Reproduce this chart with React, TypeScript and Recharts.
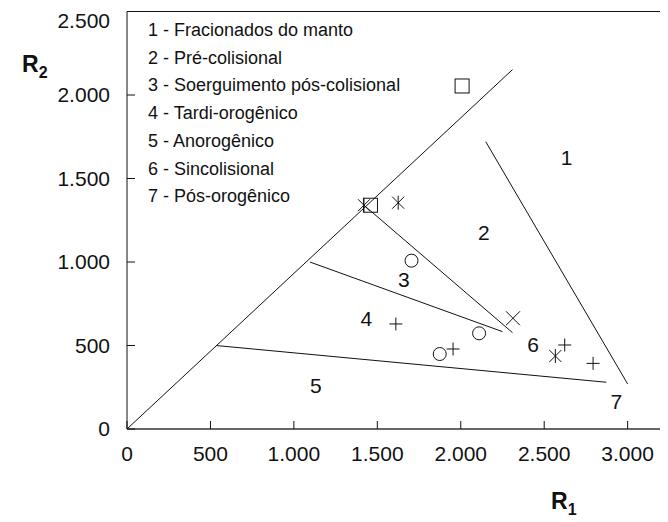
import React from 'react';
import {
	ScatterChart,
	Scatter,
	XAxis,
	YAxis,
	ReferenceLine,
} from 'recharts';

// samples, grouped by the marker used in the diagram
const squares = [
	{ x: 2008, y: 2054 },
	{ x: 1459, y: 1340 },
];
const asterisks = [
	{ x: 1420, y: 1340 },
	{ x: 1625, y: 1355 },
	{ x: 2567, y: 437 },
];
const circles = [
	{ x: 1705, y: 1008 },
	{ x: 2110, y: 573 },
	{ x: 1874, y: 449 },
];
const pluses = [
	{ x: 1954, y: 479 },
	{ x: 1611, y: 629 },
	{ x: 2623, y: 503 },
	{ x: 2793, y: 393 },
];
const crosses = [{ x: 2313, y: 663 }];

// field boundaries
const boundaries = [
	[{ x: 0, y: 0 }, { x: 2310, y: 2152 }],
	[{ x: 2150, y: 1720 }, { x: 3000, y: 270 }],
	[{ x: 1420, y: 1340 }, { x: 2310, y: 577 }],
	[{ x: 1096, y: 1000 }, { x: 2250, y: 583 }],
	[{ x: 533, y: 500 }, { x: 2872, y: 280 }],
];

const fieldLabels = [
	{ x: 2635, y: 1623, text: '1' },
	{ x: 2138, y: 1174, text: '2' },
	{ x: 1659, y: 898, text: '3' },
	{ x: 1435, y: 663, text: '4' },
	{ x: 1132, y: 263, text: '5' },
	{ x: 2433, y: 507, text: '6' },
	{ x: 2932, y: 163, text: '7' },
];

const legendItems = [
	'1 - Fracionados do manto',
	'2 - Pré-colisional',
	'3 - Soerguimento pós-colisional',
	'4 - Tardi-orogênico',
	'5 - Anorogênico',
	'6 - Sincolisional',
	'7 - Pós-orogênico',
];

const xTicks = [0, 500, 1000, 1500, 2000, 2500, 3000];
const yTicks = [0, 500, 1000, 1500, 2000, 2500];

const FONT = '"Liberation Sans", Arial, sans-serif';
const INK = '#111';

const fmt = (v: number) => String(v).replace(/\B(?=(\d{3})+(?!\d))/g, '.');

const SquareShape = (p: any) => (
	<rect x={p.cx - 7} y={p.cy - 7} width={14} height={14} fill='none' stroke={INK} strokeWidth={1} />
);
const CircleShape = (p: any) => (
	<circle cx={p.cx} cy={p.cy} r={6.5} fill='none' stroke={INK} strokeWidth={1} />
);
const PlusShape = (p: any) => (
	<g stroke={INK} strokeWidth={1}>
		<line x1={p.cx - 6.5} y1={p.cy} x2={p.cx + 6.5} y2={p.cy} />
		<line x1={p.cx} y1={p.cy - 6.5} x2={p.cx} y2={p.cy + 6.5} />
	</g>
);
const CrossShape = (p: any) => (
	<g stroke={INK} strokeWidth={1}>
		<line x1={p.cx - 7} y1={p.cy - 7} x2={p.cx + 7} y2={p.cy + 7} />
		<line x1={p.cx - 7} y1={p.cy + 7} x2={p.cx + 7} y2={p.cy - 7} />
	</g>
);
const AsteriskShape = (p: any) => (
	<g stroke={INK} strokeWidth={1}>
		<line x1={p.cx} y1={p.cy - 7} x2={p.cx} y2={p.cy + 7} />
		<line x1={p.cx - 6} y1={p.cy - 6} x2={p.cx + 6} y2={p.cy + 6} />
		<line x1={p.cx - 6} y1={p.cy + 6} x2={p.cx + 6} y2={p.cy - 6} />
	</g>
);
const LabelShape = (p: any) => (
	<text
		x={p.cx}
		y={p.cy}
		textAnchor='middle'
		dominantBaseline='central'
		fontFamily={FONT}
		fontSize={21}
		fill={INK}
	>
		{p.payload.text}
	</text>
);

export default function App() {
	return (
		<div style={{ position: 'relative', width: 660, height: 514, fontFamily: FONT }}>
			<ScatterChart
				width={660}
				height={514}
				margin={{ top: 2.5, right: 6, left: 59, bottom: 53 }}
			>
				<XAxis
					type='number'
					dataKey='x'
					domain={[0, 3200]}
					ticks={xTicks}
					allowDataOverflow
					height={40}
					tickSize={-8}
					tickMargin={25}
					tickFormatter={fmt}
					stroke={INK}
					axisLine={{ stroke: '#333', strokeWidth: 1.5 }}
					tick={{ fill: INK, fontSize: 21, fontFamily: FONT }}
				/>
				<XAxis
					xAxisId='top'
					orientation='top'
					type='number'
					domain={[0, 3200]}
					ticks={xTicks}
					height={1}
					tickSize={-8}
					tickFormatter={() => ''}
					stroke={INK}
				/>
				<YAxis
					type='number'
					dataKey='y'
					domain={[0, 2500]}
					ticks={yTicks}
					allowDataOverflow
					width={60}
					tickSize={-8}
					tickMargin={25}
					tickFormatter={fmt}
					stroke={INK}
					tick={{ fill: INK, fontSize: 21, fontFamily: FONT }}
				/>
				<YAxis
					yAxisId='right'
					orientation='right'
					type='number'
					domain={[0, 2500]}
					ticks={yTicks}
					width={1}
					tickSize={-8}
					tickFormatter={() => ''}
					stroke={INK}
				/>
				{boundaries.map((seg, i) => (
					<ReferenceLine key={`b-${i}`} segment={seg} stroke={INK} strokeWidth={1} />
				))}
				<Scatter data={squares} shape={SquareShape} isAnimationActive={false} />
				<Scatter data={asterisks} shape={AsteriskShape} isAnimationActive={false} />
				<Scatter data={circles} shape={CircleShape} isAnimationActive={false} />
				<Scatter data={pluses} shape={PlusShape} isAnimationActive={false} />
				<Scatter data={crosses} shape={CrossShape} isAnimationActive={false} />
				<Scatter data={fieldLabels} shape={LabelShape} isAnimationActive={false} />
			</ScatterChart>
			<div style={{ position: 'absolute', left: 140, top: 9, fontSize: 18, lineHeight: '27.7px', color: INK }}>
				{legendItems.map((t) => (
					<div key={t}>{t}</div>
				))}
			</div>
			<div style={{ position: 'absolute', left: 14, top: 43, fontSize: 23, fontWeight: 'bold', color: INK }}>
				R<sub style={{ fontSize: 16 }}>2</sub>
			</div>
			<div style={{ position: 'absolute', left: 543, top: 480, fontSize: 23, fontWeight: 'bold', color: INK }}>
				R<sub style={{ fontSize: 16 }}>1</sub>
			</div>
		</div>
	);
}
